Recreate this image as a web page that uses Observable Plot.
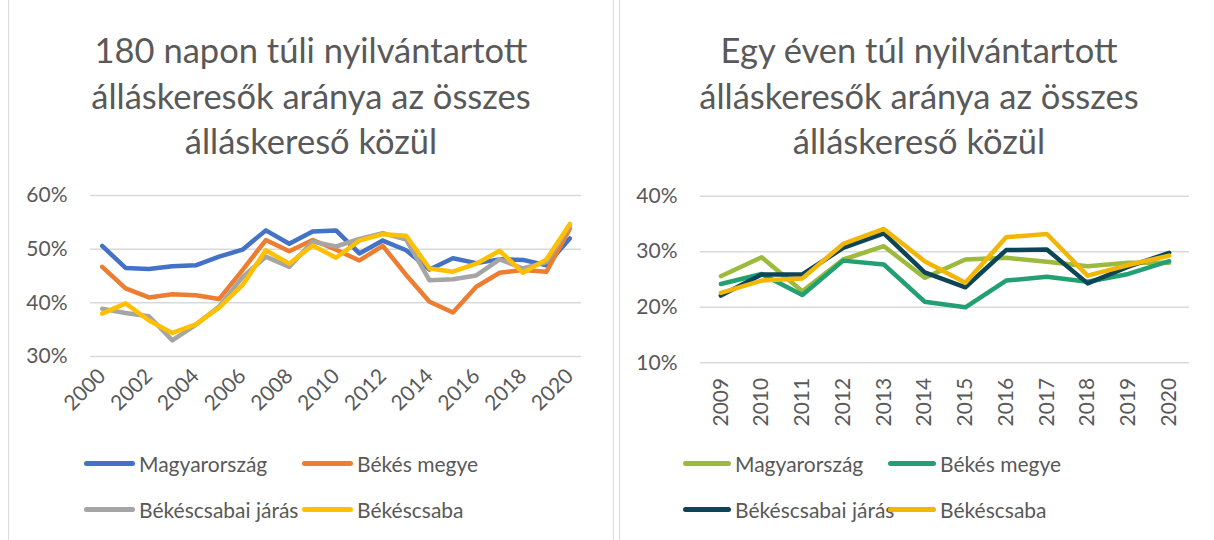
<!DOCTYPE html>
<html>
<head>
<meta charset="utf-8">
<script src="https://cdn.jsdelivr.net/npm/d3@7"></script>
<script src="https://cdn.jsdelivr.net/npm/@observablehq/plot@0.6"></script>
<style>
  html, body { margin: 0; padding: 0; background: #fff; }
  body { width: 1214px; height: 540px; position: relative; overflow: hidden; font-family: Lato, "Open Sans", sans-serif; color: #595959; }
  .panel { position: absolute; top: -2px; height: 560px; border: 1.5px solid #d9d9d9; box-sizing: border-box; }
  .title { position: absolute; top: 27px; text-align: center; font-size: 34.5px; line-height: 45.5px; color: #595959; }
  .chart { position: absolute; top: 180px; }
  .legend { position: absolute; font-size: 21px; color: #595959; }
  .item { position: absolute; display: flex; align-items: center; white-space: nowrap; }
  .sw { display: inline-block; height: 5px; border-radius: 3px; margin-right: 4px; }
</style>
</head>
<body>
<div class="panel" style="left:8px;width:606px;"></div>
<div class="panel" style="left:619px;width:600px;"></div>
<div class="title" id="titleA" style="left:8px;width:606px;"></div>
<div class="title" id="titleB" style="left:619px;width:600px;"></div>
<div class="chart" id="chartA" style="left:0px;"></div>
<div class="chart" id="chartB" style="left:620px;"></div>
<div class="legend" id="legendA"></div>
<div class="legend" id="legendB"></div>
<script>
// ---------- Data ----------
const seriesNames = ["Magyarország", "Békés megye", "Békéscsabai járás", "Békéscsaba"];

const titleA = ["180 napon túli nyilvántartott", "álláskeresők aránya az összes", "álláskereső közül"];
const yearsA = [2000, 2001, 2002, 2003, 2004, 2005, 2006, 2007, 2008, 2009, 2010, 2011, 2012, 2013, 2014, 2015, 2016, 2017, 2018, 2019, 2020];
const magyarA = [50.6, 46.5, 46.3, 46.8, 47.0, 48.6, 49.9, 53.5, 51.0, 53.3, 53.5, 49.2, 51.6, 49.8, 46.2, 48.3, 47.4, 48.1, 48.0, 47.0, 52.0];
const bekesA  = [46.7, 42.7, 41.0, 41.6, 41.4, 40.7, 46.1, 51.7, 49.6, 51.7, 49.9, 47.9, 50.6, 45.2, 40.2, 38.2, 43.0, 45.6, 46.1, 45.8, 53.8];
const jarasA  = [38.9, 38.1, 37.5, 33.0, 35.9, 39.3, 44.8, 48.6, 46.7, 51.4, 50.5, 51.9, 53.0, 51.8, 44.2, 44.4, 45.1, 48.1, 46.4, 47.6, 54.4];
const csabaA  = [38.0, 39.9, 36.7, 34.4, 36.0, 39.1, 43.3, 49.8, 47.3, 50.7, 48.4, 51.6, 52.8, 52.5, 46.4, 45.8, 47.3, 49.7, 45.6, 48.1, 54.7];
const xTicksA = [2000, 2002, 2004, 2006, 2008, 2010, 2012, 2014, 2016, 2018, 2020];
const yTicksA = [30, 40, 50, 60];
const colorsA = ["#4472C4", "#ED7D31", "#A5A5A5", "#FFC000"];

const titleB = ["Egy éven túl nyilvántartott", "álláskeresők aránya az összes", "álláskereső közül"];
const yearsB = [2009, 2010, 2011, 2012, 2013, 2014, 2015, 2016, 2017, 2018, 2019, 2020];
const magyarB = [25.6, 29.0, 22.9, 28.6, 31.0, 25.3, 28.6, 28.9, 28.2, 27.4, 28.0, 28.0];
const bekesB  = [24.2, 26.0, 22.2, 28.4, 27.7, 21.0, 20.0, 24.8, 25.5, 24.6, 26.0, 28.3];
const jarasB  = [22.1, 25.9, 25.9, 30.7, 33.3, 26.3, 23.6, 30.3, 30.4, 24.3, 27.3, 29.8];
const csabaB  = [22.6, 24.8, 25.2, 31.4, 34.1, 28.3, 24.4, 32.6, 33.2, 25.7, 27.6, 29.3];
const xTicksB = yearsB;
const yTicksB = [10, 20, 30, 40];
const colorsB = ["#9CBB3C", "#22A071", "#0C4557", "#F2B705"];

// ---------- Build ----------
function longData(years, arrays) {
  const out = [];
  arrays.forEach((arr, i) => arr.forEach((v, j) => out.push({series: seriesNames[i], year: years[j], value: v})));
  return out;
}

function makeChart(opts) {
  const {years, arrays, colors, xTicks, yTicks, width, height, ml, mr, mt, mb, rotate, xPad, yPad} = opts;
  const data = longData(years, arrays);
  return Plot.plot({
    width, height,
    marginLeft: ml, marginRight: mr, marginTop: mt, marginBottom: mb,
    style: {fontFamily: "Lato, 'Open Sans', sans-serif", fontSize: "21px", color: "#595959", background: "transparent", overflow: "visible"},
    x: {type: "linear", domain: [years[0] - 0.5, years[years.length - 1] + 0.5]},
    y: {domain: [yTicks[0], yTicks[yTicks.length - 1]]},
    color: {domain: seriesNames, range: colors},
    marks: [
      Plot.ruleY(yTicks, {stroke: "#d9d9d9", strokeWidth: 1.5}),
      Plot.axisY({ticks: yTicks, tickSize: 0, tickPadding: yPad, tickFormat: d => d + "%", fill: "#595959", label: null}),
      Plot.axisX({ticks: xTicks, tickSize: 0, tickPadding: xPad, tickRotate: rotate, tickFormat: d => String(d), fill: "#595959", label: null}),
      Plot.line(data, {x: "year", y: "value", z: "series", stroke: "series", strokeWidth: 4.5, strokeLinejoin: "round", strokeLinecap: "round"})
    ]
  });
}

document.getElementById("chartA").appendChild(makeChart({
  years: yearsA, arrays: [magyarA, bekesA, jarasA, csabaA], colors: colorsA,
  xTicks: xTicksA, yTicks: yTicksA, width: 612, height: 260,
  ml: 90, mr: 31, mt: 15, mb: 84, rotate: -45, xPad: 16, yPad: 23
}));
document.getElementById("chartB").appendChild(makeChart({
  years: yearsB, arrays: [magyarB, bekesB, jarasB, csabaB], colors: colorsB,
  xTicks: xTicksB, yTicks: yTicksB, width: 594, height: 260,
  ml: 80, mr: 25, mt: 15.7, mb: 77.7, rotate: -90, xPad: 15, yPad: 23
}));

function fillTitle(id, lines) {
  const el = document.getElementById(id);
  lines.forEach(l => { const d = document.createElement("div"); d.textContent = l; el.appendChild(d); });
}
fillTitle("titleA", titleA);
fillTitle("titleB", titleB);

function makeLegend(id, colors, positions) {
  const el = document.getElementById(id);
  seriesNames.forEach((name, i) => {
    const it = document.createElement("div");
    it.className = "item";
    it.style.left = positions[i][0] + "px";
    it.style.top = positions[i][1] + "px";
    const sw = document.createElement("span");
    sw.className = "sw";
    sw.style.width = positions[i][2] + "px";
    sw.style.background = colors[i];
    it.appendChild(sw);
    it.appendChild(document.createTextNode(name));
    el.appendChild(it);
  });
}
makeLegend("legendA", colorsA, [[84, 451, 51], [302, 451, 51], [84, 497, 51], [302, 497, 51]]);
makeLegend("legendB", colorsB, [[683, 451, 48], [888, 451, 48], [683, 497, 48], [888, 497, 48]]);
</script>
</body>
</html>
